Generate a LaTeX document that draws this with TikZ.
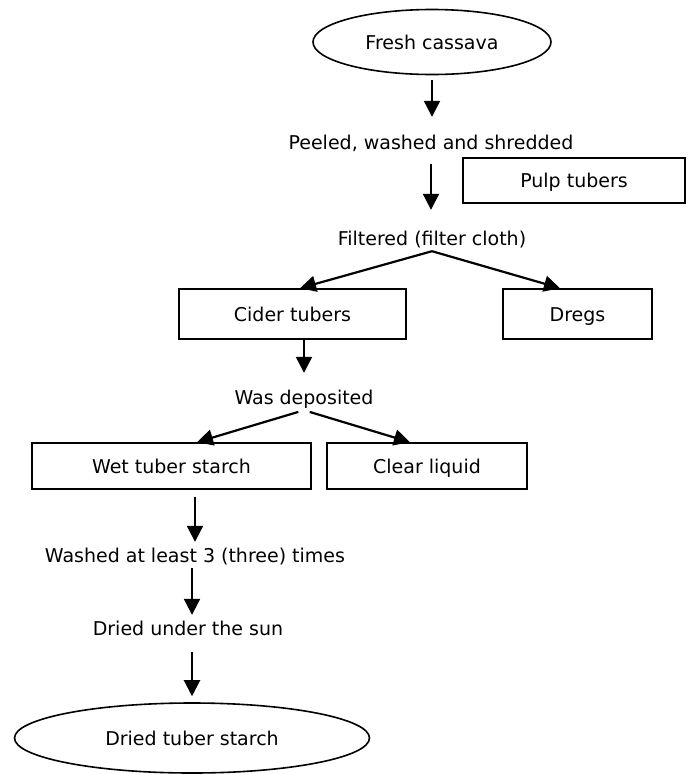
\documentclass[tikz,border=0pt]{standalone}
\usepackage{fontspec}
\setmainfont{DejaVu Sans}
\usepackage{tikz}
\usetikzlibrary{arrows.meta,shapes.geometric,calc}

\begin{document}
\begin{tikzpicture}[x=1pt, y=-1pt,
        font=\fontsize{19}{23}\selectfont,
        every node/.style={text height=14pt, text depth=0pt},
        kasten/.style={draw, line width=1.6pt, inner sep=0pt},
        oval/.style={draw, ellipse, line width=1.6pt, inner sep=0pt},
        schritt/.style={inner sep=0pt, minimum height=26pt},
        pfeil/.style={-{Triangle[length=16pt, width=16pt]}, line width=2.2pt}]
        % Umgebung
            \useasboundingbox (0,0) rectangle (692,774);

        % Ellipsen
            \node[oval, minimum width=238pt, minimum height=65pt] (frisch) at (432,42) {Fresh cassava};
            \node[oval, minimum width=355pt, minimum height=70pt] (trocken) at (192,738) {Dried tuber starch};

        % Rechtecke
            \node[kasten, minimum width=222pt, minimum height=45pt] (brei) at (574,180.5) {Pulp tubers};
            \node[kasten, minimum width=227pt, minimum height=50pt] (saft) at (292.5,314) {Cider tubers};
            \node[kasten, minimum width=149pt, minimum height=50pt] (trester) at (577.5,314) {Dregs};
            \node[kasten, minimum width=279pt, minimum height=46pt] (nass) at (171.5,466) {Wet tuber starch};
            \node[kasten, minimum width=200pt, minimum height=46pt] (klar) at (427,466) {Clear liquid};

        % Texte
            \node[schritt] (geschaelt) at (431,142) {Peeled, washed and shredded};
            \node[schritt] (gefiltert) at (432,238) {Filtered (filter cloth)};
            \node[schritt] (abgesetzt) at (304,397) {Was deposited};
            \node[schritt] (gewaschen) at (195,555) {Washed at least 3 (three) times};
            \node[schritt] (sonne) at (188,628) {Dried under the sun};

        % Pfeile
            \draw[pfeil, shorten <=5pt, shorten >=12pt] (frisch.south) -- (geschaelt.north -| frisch);
            \draw[pfeil, shorten <=9pt, shorten >=15pt] (geschaelt.south) -- (geschaelt.south |- gefiltert.north);
            \draw[pfeil] (gefiltert.south) -- ($(saft.north)+(7.5,0)$);
            \draw[pfeil] (gefiltert.south) -- ($(trester.north)+(-17.5,0)$);
            \draw[pfeil, shorten >=11pt] (saft.south -| abgesetzt) -- (abgesetzt.north);
            \draw[pfeil, shorten <=6pt] (abgesetzt.south) -- ($(nass.north)+(25.5,0)$);
            \draw[pfeil, shorten <=6pt] (abgesetzt.south) -- ($(klar.north)+(-17,0)$);
            \draw[pfeil, shorten <=7pt] (nass.south -| gewaschen) -- (gewaschen.north);
            \draw[pfeil] (gewaschen.south -| trocken) -- (sonne.north -| trocken);
            \draw[pfeil, shorten <=11pt, shorten >=6pt] (sonne.south -| trocken) -- (trocken.north);
    \end{tikzpicture}
\end{document}
